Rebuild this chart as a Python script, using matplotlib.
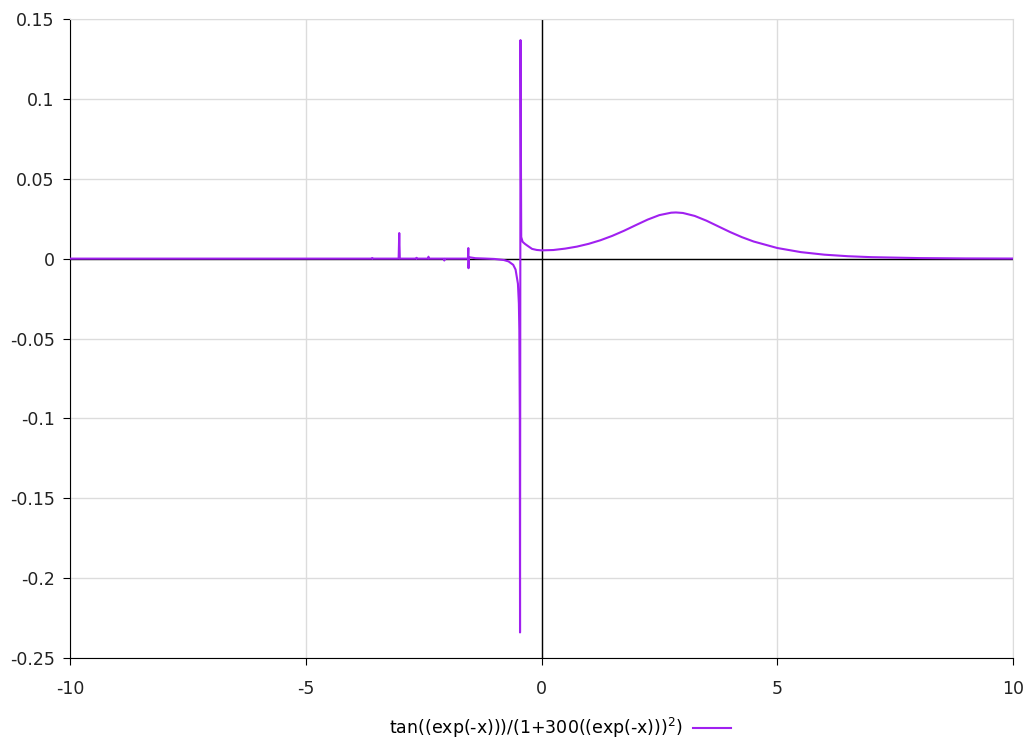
import numpy as np
import matplotlib.pyplot as plt

# values
x_left = [-10, -6.0, -3.6, -3.59, -3.58, -3.03, -3.017, -3.005, -2.66, -2.65, -2.64,
          -2.41, -2.397, -2.385, -2.07, -2.061, -2.05, -1.56, -1.552, -1.548, -1.54,
          -1.4, -1.2, -1.0, -0.8, -0.7, -0.6, -0.55, -0.5, -0.48, -0.47, -0.46, -0.4553]
y_left = [0, 0, 0, 0.0004, 0, 0, 0.016, 0, 0, 0.0005, 0,
          0, 0.0012, 0, 0, -0.0012, 0, 0, 0.0066, -0.006, 0.0009,
          0.00026, 0.00005, -0.0002, -0.00087, -0.00173, -0.00388, -0.00684, -0.0157, -0.0281, -0.0447, -0.0998, -0.234]

x_right = [-0.4453, -0.43, -0.4, -0.35, -0.3, -0.2, -0.1, 0, 0.25, 0.5, 0.75,
           1.0, 1.25, 1.5, 1.75, 2.0, 2.25, 2.5, 2.75, 2.85, 3.0, 3.25, 3.5, 3.75,
           4.0, 4.25, 4.5, 5.0, 5.5, 6.0, 6.5, 7.0, 8.0, 9.0, 10.0]
y_right = [0.1368, 0.0135, 0.0105, 0.0092, 0.00813, 0.00609, 0.00542, 0.00517, 0.00539, 0.00626, 0.00751,
           0.00926, 0.0115, 0.01424, 0.01744, 0.02096, 0.02441, 0.02724, 0.02875, 0.0289, 0.02857, 0.02672, 0.02373, 0.02018,
           0.01664, 0.01344, 0.01071, 0.00665, 0.00407, 0.00247, 0.0015, 0.00091, 0.00034, 0.00012, 0.00005]

x_ticks = [-10, -5, 0, 5, 10]
y_ticks = [0.15, 0.1, 0.05, 0, -0.05, -0.1, -0.15, -0.2, -0.25]
y_labels = ['0.15', '0.1', '0.05', '0', '-0.05', '-0.1', '-0.15', '-0.2', '-0.25']
label = 'tan((exp(-x)))/(1+300((exp(-x)))$^{2}$)'

plt.rcParams['font.family'] = ['DejaVu Sans']
plt.rcParams['font.size'] = 12.5

fig = plt.figure(figsize=(10.27, 7.40), dpi=100)
ax = fig.add_axes([70/1027, 82/740, 943/1027, 639/740])

xs = x_left + x_right
ys = y_left + y_right
line, = ax.plot(xs, ys, color='#a020f0', lw=1.5, label=label, zorder=3)

ax.set_xlim(-10, 10)
ax.set_ylim(-0.25, 0.15)
ax.set_xticks(x_ticks)
ax.set_xticklabels([str(t) for t in x_ticks])
ax.set_yticks(y_ticks)
ax.set_yticklabels(y_labels)
ax.grid(True, color='#dcdcdc', lw=1, zorder=1)
ax.axhline(0, color='black', lw=1, zorder=2)
ax.axvline(0, color='black', lw=1, zorder=2)
for s in ['top', 'right']:
    ax.spines[s].set_color('#dcdcdc')
for s in ['left', 'bottom']:
    ax.spines[s].set_color('black')
ax.tick_params(direction='out', length=5, colors='black', labelcolor='#222222', pad=6)
ax.tick_params(axis='x', pad=11)

fig.legend(handles=[line], loc='center', bbox_to_anchor=(560/1027, 1 - 728/740),
           frameon=False, markerfirst=False, handlelength=2.2, handletextpad=0.6)

fig.savefig('out.png', dpi=100)
